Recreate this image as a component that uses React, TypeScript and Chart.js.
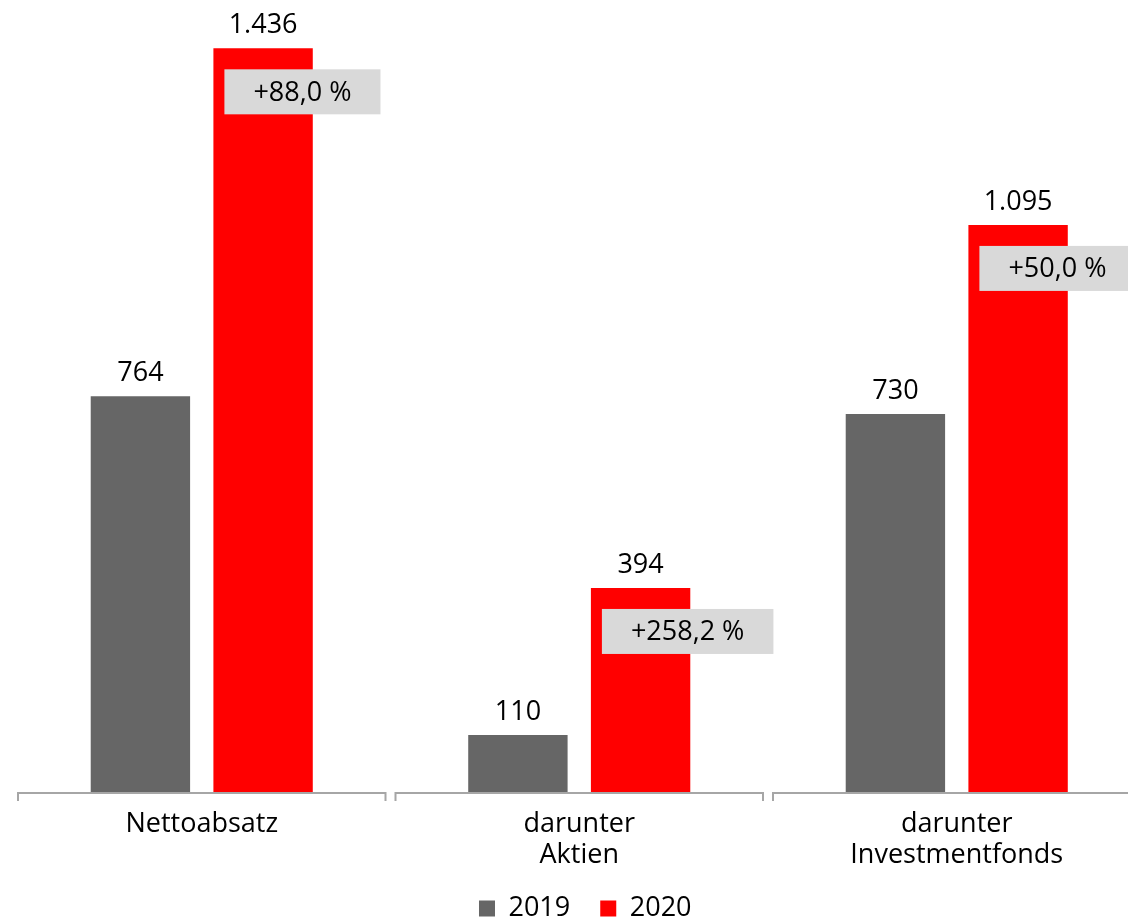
import React, { useEffect, useRef } from 'react';
import { Chart, registerables } from 'chart.js';

Chart.register(...registerables);

const categories: string[][] = [['Nettoabsatz'], ['darunter', 'Aktien'], ['darunter', 'Investmentfonds']];
const seriesNames = ['2019', '2020'];
const values2019 = [764, 110, 730];
const values2020 = [1436, 394, 1095];
const changeLabels = ['+88,0 %', '+258,2 %', '+50,0 %'];
const seriesColors = ['#666666', '#ff0000'];

const FONT = "'Open Sans', sans-serif";
const FS = 27;
const CANVAS_W = 1160;
const CANVAS_H = 932;

function fmt(v: number): string {
  return String(v).replace(/\B(?=(\d{3})+(?!\d))/g, '.');
}

const overlayPlugin = {
  id: 'overlay',
  afterLayout(chart: any) {
    const lg = chart.legend;
    if (lg) {
      lg.left += 6;
      lg.right += 6;
    }
  },
  afterDatasetsDraw(chart: any) {
    const ctx = chart.ctx as CanvasRenderingContext2D;
    const area = chart.chartArea;
    const x = chart.scales.x;
    const n = categories.length;
    const cw = (x.right - x.left) / n;
    ctx.save();
    // bracket-style axis segments
    ctx.strokeStyle = '#a6a6a6';
    ctx.lineWidth = 2;
    for (let i = 0; i < n; i++) {
      const c = x.getPixelForValue(i);
      const l = c - cw / 2 + 5;
      const r = c + cw / 2 - 5;
      const y = area.bottom + 1;
      ctx.beginPath();
      ctx.moveTo(l, y + 8);
      ctx.lineTo(l, y);
      ctx.lineTo(r, y);
      ctx.lineTo(r, y + 8);
      ctx.stroke();
    }
    // value labels
    ctx.font = `${FS}px ${FONT}`;
    ctx.fillStyle = '#000';
    ctx.textAlign = 'center';
    ctx.textBaseline = 'alphabetic';
    chart.data.datasets.forEach((ds: any, di: number) => {
      const meta = chart.getDatasetMeta(di);
      meta.data.forEach((bar: any, i: number) => {
        ctx.fillText(fmt(ds.data[i]), bar.x, bar.y - 15);
      });
    });
    // change boxes
    const meta = chart.getDatasetMeta(1);
    meta.data.forEach((bar: any, i: number) => {
      const t = changeLabels[i];
      ctx.font = `${FS}px ${FONT}`;
      const tw = ctx.measureText(t).width;
      const bw = tw + 58;
      const bh = 45;
      const left = bar.x - bar.width / 2 + 11;
      const top = bar.y + 21;
      ctx.fillStyle = '#d9d9d9';
      ctx.fillRect(left, top, bw, bh);
      ctx.fillStyle = '#000';
      ctx.textAlign = 'center';
      ctx.textBaseline = 'middle';
      ctx.fillText(t, left + bw / 2, top + bh / 2 + 1);
    });
    ctx.restore();
  },
};

export default function App() {
  const ref = useRef<HTMLCanvasElement | null>(null);
  useEffect(() => {
    if (!ref.current) return;
    const chart = new Chart(ref.current, {
      type: 'bar',
      data: {
        labels: categories,
        datasets: [
          {
            label: seriesNames[0],
            data: values2019,
            backgroundColor: seriesColors[0],
            categoryPercentage: 0.65,
            barPercentage: 0.81,
          },
          {
            label: seriesNames[1],
            data: values2020,
            backgroundColor: seriesColors[1],
            categoryPercentage: 0.65,
            barPercentage: 0.81,
          },
        ],
      },
      options: {
        responsive: false,
        animation: false,
        layout: { padding: { left: 13, right: 14.5, top: 10, bottom: 0 } },
        scales: {
          x: {
            grid: { display: false, drawTicks: false },
            border: { display: false },
            ticks: {
              font: { family: FONT, size: FS, lineHeight: 1.15 },
              color: '#000',
              padding: 17,
              maxRotation: 0,
              autoSkip: false,
            },
            afterFit: (s: any) => {
              s.height = 73;
            },
          },
          y: { display: false, min: 0, max: 1510 },
        },
        plugins: {
          legend: {
            position: 'bottom',
            labels: {
              boxWidth: 16,
              boxHeight: 16,
              padding: 30,
              font: { family: FONT, size: FS },
              color: '#000',
            },
          },
          tooltip: { enabled: false },
        },
      },
      plugins: [overlayPlugin],
    } as any);
    return () => chart.destroy();
  }, []);
  return (
    <div style={{ position: 'fixed', left: 0, top: 0, width: 1128, height: 920, overflow: 'hidden', background: '#fff' }}>
      <canvas ref={ref} width={CANVAS_W} height={CANVAS_H} style={{ width: CANVAS_W, height: CANVAS_H, display: 'block' }} />
    </div>
  );
}
